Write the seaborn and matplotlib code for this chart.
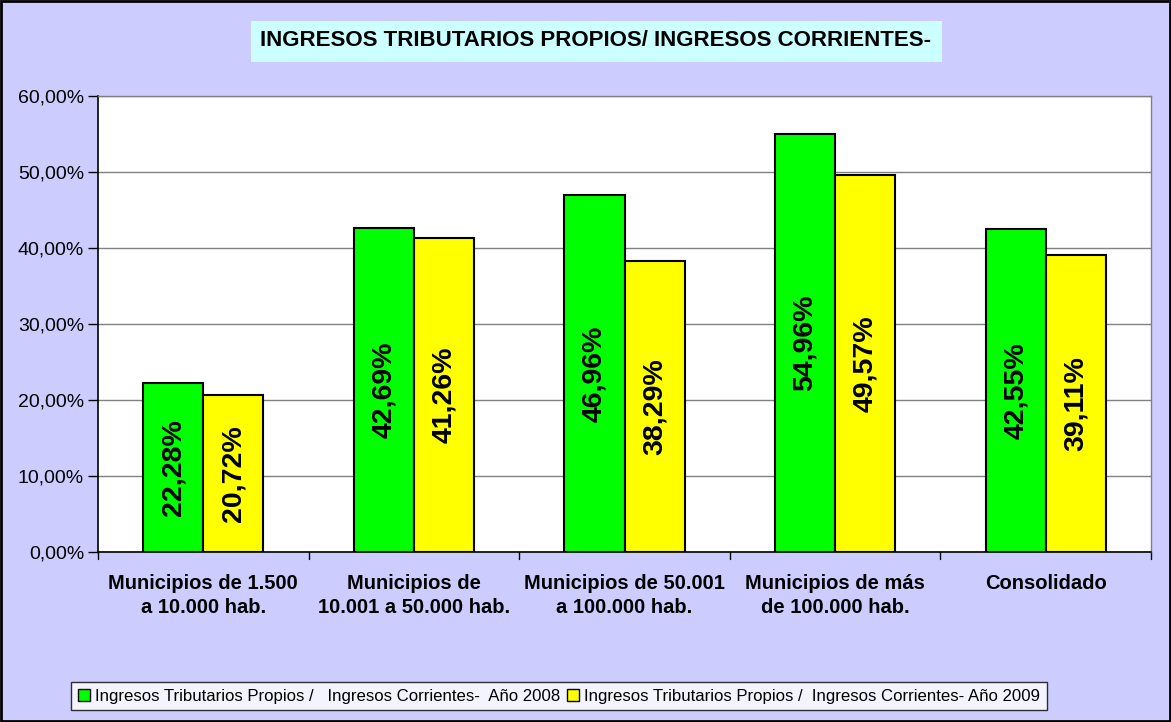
import pandas as pd
import numpy as np
import matplotlib.pyplot as plt
import seaborn as sns
from matplotlib.patches import Rectangle
from matplotlib.ticker import FuncFormatter

# datos
categorias = ["Municipios de 1.500\na 10.000 hab.", "Municipios de\n10.001 a 50.000 hab.",
              "Municipios de 50.001\na 100.000 hab.", "Municipios de más\nde 100.000 hab.", "Consolidado"]
serie_2008 = [22.28, 42.69, 46.96, 54.96, 42.55]
serie_2009 = [20.72, 41.26, 38.29, 49.57, 39.11]
nombre_2008 = "Ingresos Tributarios Propios /   Ingresos Corrientes-  Año 2008"
nombre_2009 = "Ingresos Tributarios Propios /  Ingresos Corrientes- Año 2009"
titulo = "INGRESOS TRIBUTARIOS PROPIOS/ INGRESOS CORRIENTES-"

df = pd.DataFrame({
    "categoria": categorias * 2,
    "valor": serie_2008 + serie_2009,
    "serie": [nombre_2008] * 5 + [nombre_2009] * 5,
})

sns.set_style("white")
plt.rcParams['font.family'] = ['Liberation Sans', 'DejaVu Sans']
plt.rcParams['text.color'] = 'black'
plt.rcParams['xtick.color'] = 'black'
plt.rcParams['ytick.color'] = 'black'

fig = plt.figure(figsize=(11.71, 7.22), dpi=100)
fig.patch.set_facecolor("#CCCCFF")
ax = fig.add_axes([98 / 1171, 1 - 552 / 722, (1151 - 98) / 1171, (552 - 96) / 722])
ax.set_facecolor("white")

sns.barplot(data=df, x="categoria", y="valor", hue="serie", palette=["#00FF00", "#FFFF00"],
            width=0.57, gap=0, edgecolor="black", linewidth=1.5, saturation=1, ax=ax, legend=False)

ax.set_ylim(0, 60)
ax.set_xlim(-0.5, 4.5)
ax.set_yticks(np.arange(0, 61, 10))
ax.yaxis.set_major_formatter(FuncFormatter(lambda v, p: f"{v:.2f}%".replace(".", ",")))
ax.yaxis.grid(True, color="#808080", linewidth=1)
ax.set_axisbelow(True)
ax.set_xlabel("")
ax.set_ylabel("")

ax.tick_params(axis="y", direction="out", length=7, width=1, colors="black", labelsize=14, pad=3, left=True)
ax.tick_params(axis="x", bottom=False, labelsize=14.5, pad=12, labelcolor="black")
for lbl in ax.get_xticklabels():
    lbl.set_fontweight("bold")
    lbl.set_linespacing(1.35)
# marcas entre categorias
for xb in np.arange(-0.5, 5, 1):
    ax.plot([xb, xb], [0, -0.015], transform=ax.get_xaxis_transform(), color="black",
            linewidth=1, clip_on=False)

for side in ["left", "bottom"]:
    ax.spines[side].set_color("black")
    ax.spines[side].set_linewidth(1.2)
for side in ["top", "right"]:
    ax.spines[side].set_color("#808080")
    ax.spines[side].set_linewidth(1)

for cont in ax.containers:
    for bar in cont:
        h = bar.get_height()
        ax.text(bar.get_x() + bar.get_width() / 2, h / 2, f"{h:.2f}%".replace(".", ","),
                rotation=90, ha="center", va="center", fontsize=20.5, fontweight="bold", color="black")

# titulo
fig.text(596 / 1171, 1 - 41 / 722, titulo, ha="center", va="center", fontsize=16, fontweight="bold",
         color="black", bbox=dict(boxstyle="square,pad=0.45", facecolor="#CCFFFF", edgecolor="none"))

# leyenda
handles = [Rectangle((0, 0), 1, 1, facecolor="#00FF00", edgecolor="black"),
           Rectangle((0, 0), 1, 1, facecolor="#FFFF00", edgecolor="black")]
leg = fig.legend(handles, [nombre_2008, nombre_2009], loc="center", bbox_to_anchor=(559 / 1171, 1 - 696 / 722),
                 ncol=2, frameon=True, fancybox=False, edgecolor="black",
                 handlelength=0.7, handleheight=0.7, handletextpad=0.3, columnspacing=0.4,
                 borderpad=0.4, prop={"family": ["Liberation Sans"], "size": 12.1})
leg.get_frame().set_linewidth(1)
for t in leg.get_texts():
    t.set_color("black")

# borde exterior
fig.patches.append(Rectangle((0.001, 0.001), 0.998, 0.998, transform=fig.transFigure,
                             fill=False, edgecolor="black", linewidth=2))

plt.savefig("out.png", dpi=100, facecolor=fig.get_facecolor())
